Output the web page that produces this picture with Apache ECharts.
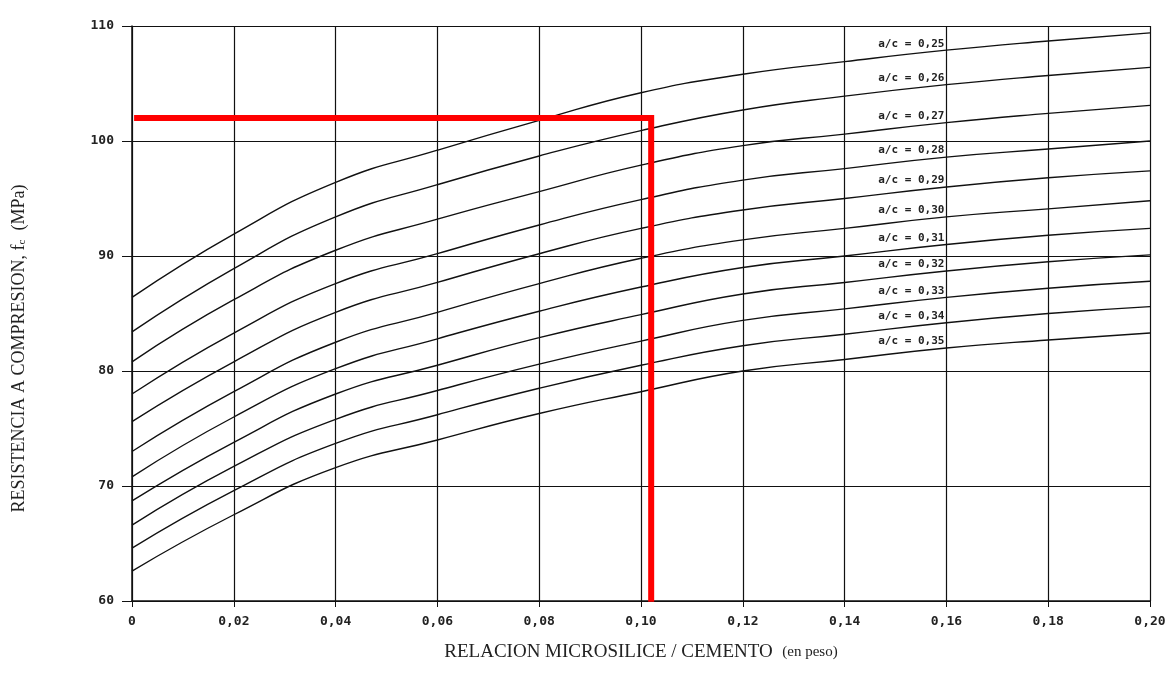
<!DOCTYPE html>
<html>
<head>
<meta charset="utf-8">
<script src="https://cdn.jsdelivr.net/npm/echarts@6/dist/echarts.min.js"></script>
<style>
  html, body { margin: 0; padding: 0; background: #fff; }
  #chart { width: 1172px; height: 673px; }
</style>
</head>
<body>
<div id="chart"></div>
<script>
// relacion microsilice / cemento
const xValues = [0, 0.02, 0.04, 0.06, 0.08, 0.10, 0.12, 0.14, 0.16, 0.18, 0.20];
const xTickLabels = ['0', '0,02', '0,04', '0,06', '0,08', '0,10', '0,12', '0,14', '0,16', '0,18', '0,20'];
const yTickLabels = ['60', '70', '80', '90', '100', '110'];

// resistencia (MPa) por relacion a/c
const ac025 = [86.4, 91.9, 96.4, 99.2, 101.8, 104.2, 105.8, 106.9, 107.9, 108.7, 109.4];
const ac026 = [83.4, 88.9, 93.4, 96.2, 98.7, 100.9, 102.7, 103.9, 104.9, 105.7, 106.4];
const ac027 = [80.8, 86.2, 90.5, 93.2, 95.6, 97.9, 99.6, 100.6, 101.6, 102.4, 103.1];
const ac028 = [78.0, 83.3, 87.6, 90.2, 92.7, 94.9, 96.6, 97.6, 98.6, 99.3, 100.0];
const ac029 = [75.6, 80.8, 85.1, 87.7, 90.2, 92.4, 94.0, 95.0, 96.0, 96.8, 97.4];
const ac030 = [73.0, 78.2, 82.5, 85.1, 87.6, 89.8, 91.4, 92.4, 93.4, 94.1, 94.8];
const ac031 = [70.8, 76.0, 80.2, 82.8, 85.2, 87.3, 89.0, 90.0, 91.0, 91.8, 92.4];
const ac032 = [68.7, 73.8, 78.0, 80.5, 82.9, 84.9, 86.7, 87.7, 88.7, 89.5, 90.1];
const ac033 = [66.6, 71.7, 75.8, 78.3, 80.6, 82.6, 84.4, 85.4, 86.4, 87.2, 87.8];
const ac034 = [64.6, 69.6, 73.7, 76.2, 78.5, 80.5, 82.2, 83.2, 84.2, 85.0, 85.6];
const ac035 = [62.6, 67.5, 71.6, 74.0, 76.3, 78.2, 80.0, 81.0, 82.0, 82.7, 83.3];

const curveNames = ['a/c = 0,25', 'a/c = 0,26', 'a/c = 0,27', 'a/c = 0,28', 'a/c = 0,29', 'a/c = 0,30',
  'a/c = 0,31', 'a/c = 0,32', 'a/c = 0,33', 'a/c = 0,34', 'a/c = 0,35'];
const curves = [ac025, ac026, ac027, ac028, ac029, ac030, ac031, ac032, ac033, ac034, ac035];

// linea roja de lectura
const readX = [0.001, 0.102, 0.102];
const readY = [102, 102, 60.2];

const labelIdx = 8; // etiqueta sobre la linea 0,16

const chartDom = document.getElementById('chart');
const myChart = echarts.init(chartDom);

const monoFont = 'DejaVu Sans Mono';

const series = curves.map((vals, i) => ({
  name: curveNames[i],
  type: 'line',
  smooth: 0.5,
  symbol: 'circle',
  symbolSize: 0,
  showSymbol: true,
  lineStyle: { color: '#111', width: 1.4 },
  itemStyle: { color: '#111' },
  z: 3,
  data: vals.map((v, j) => {
    const p = { value: [xValues[j], v] };
    if (j === labelIdx) {
      p.label = {
        show: true,
        formatter: curveNames[i],
        position: 'left',
        align: 'right',
        verticalAlign: 'bottom',
        distance: 2,
        offset: [0, -1],
        fontFamily: monoFont,
        fontSize: 11,
        fontWeight: 'bold',
        color: '#222'
      };
    }
    return p;
  })
}));

series.push({
  name: 'lectura',
  type: 'line',
  symbol: 'none',
  z: 5,
  lineStyle: { color: '#ff0000', width: 6, cap: 'square', join: 'miter' },
  data: readX.map((x, i) => [x, readY[i]])
});

const option = {
  animation: false,
  backgroundColor: '#fff',
  grid: { left: 132, right: 22, top: 26, bottom: 72 },
  xAxis: {
    type: 'value',
    min: 0,
    max: 0.2,
    interval: 0.02,
    name: 'RELACION MICROSILICE / CEMENTO  {s|(en peso)}',
    nameLocation: 'middle',
    nameGap: 42,
    nameTextStyle: {
      fontFamily: 'Liberation Serif',
      fontSize: 19,
      color: '#222',
      rich: { s: { fontFamily: 'Liberation Serif', fontSize: 15, color: '#222' } }
    },
    axisLine: { lineStyle: { color: '#111', width: 1.5 } },
    axisTick: { show: true, length: 6, lineStyle: { color: '#111' } },
    splitLine: { show: true, lineStyle: { color: '#111', width: 1.2 } },
    axisLabel: {
      margin: 14,
      fontFamily: monoFont,
      fontSize: 13,
      fontWeight: 'bold',
      color: '#222',
      formatter: v => xTickLabels[Math.round(v / 0.02)]
    }
  },
  yAxis: {
    type: 'value',
    min: 60,
    max: 110,
    interval: 10,
    name: 'RESISTENCIA A COMPRESION, f{sub|c}  (MPa)',
    nameLocation: 'middle',
    nameRotate: 90,
    nameGap: 104,
    nameTextStyle: {
      fontFamily: 'Liberation Serif',
      fontSize: 18,
      color: '#222',
      padding: [0, 70, 0, 0],
      rich: { sub: { fontFamily: 'Liberation Serif', fontSize: 11, color: '#222', padding: [6, 0, 0, 0] } }
    },
    axisLine: { show: true, lineStyle: { color: '#111', width: 1.5 } },
    axisTick: { show: true, length: 10, lineStyle: { color: '#111' } },
    splitLine: { show: true, lineStyle: { color: '#111', width: 1.2 } },
    axisLabel: {
      margin: 18,
      fontFamily: monoFont,
      fontSize: 13,
      fontWeight: 'bold',
      color: '#222',
      formatter: v => yTickLabels[Math.round((v - 60) / 10)]
    }
  },
  series: series
};

option && myChart.setOption(option);
</script>
</body>
</html>
